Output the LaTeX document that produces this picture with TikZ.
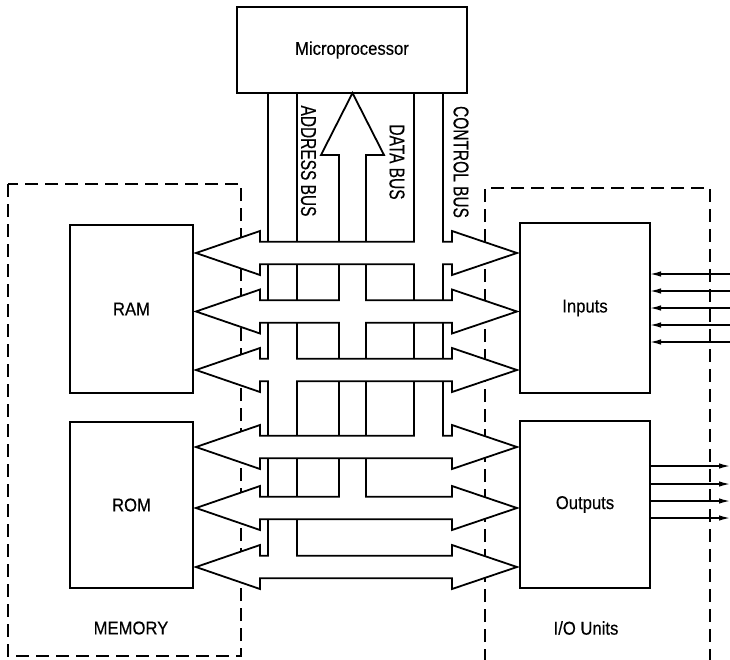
\documentclass[tikz,border=0pt]{standalone}
\usepackage{fontspec}
\setmainfont{Liberation Sans}
\newfontfamily\lblfont{Liberation Sans}[FakeStretch=0.9,FakeBold=0.35]
\newfontfamily\busfont{Liberation Sans}[FakeStretch=0.72,FakeBold=0.35]
\usetikzlibrary{arrows.meta}
\newcommand\mybusarrow[1]{%
  \filldraw[busline, fill=white] (196,#1) -- (260,#1-22) -- (260,#1-11.25) -- (452,#1-11.25)
    -- (452,#1-22) -- (517,#1) -- (452,#1+22) -- (452,#1+11.25) -- (260,#1+11.25)
    -- (260,#1+22) -- cycle;}
\newcommand\myjoin[3]{% #1 left x, #2 right x, #3 edge y
  \fill[white] (#1+0.95,#3-1.8) rectangle (#2-0.95,#3+1.8);}
\begin{document}
\begin{tikzpicture}[x=1pt,y=-1pt,
  blk/.style={draw, line width=1.8pt, inner sep=0pt, outer sep=0pt,
    font=\lblfont\fontsize{18.5}{20}\selectfont},
  lbl/.style={inner sep=0pt, font=\lblfont\fontsize{18.5}{20}\selectfont},
  buslbl/.style={inner sep=0pt, rotate=-90, font=\busfont\fontsize{21.5}{23}\selectfont},
  busline/.style={line width=1.8pt, line join=miter},
  grp/.style={line width=1.6pt, dash pattern=on 13pt off 7pt},
  sig/.style={line width=1.4pt, -{Latex[length=11pt,width=5.5pt]}}]
\useasboundingbox (0,0) rectangle (730,659);

% unit boxes
\node[blk, minimum width=230pt, minimum height=86pt] (mp) at (352,50) {Microprocessor};
\node[blk, minimum width=123pt, minimum height=168pt] (ram) at (131.5,309) {RAM};
\node[blk, minimum width=123pt, minimum height=166pt] (rom) at (131.5,505) {ROM};
\node[blk, minimum width=130pt, minimum height=170pt] (inputs) at (585,308) {Inputs};
\node[blk, minimum width=130pt, minimum height=167pt] (outputs) at (585,504.5) {Outputs};

% group outlines
\draw[grp] (8,184) rectangle (241,656);
\draw[grp] (485,662) -- (485,188) -- (710,188) -- (710,662);
\node[lbl] (memlbl) at (131,628) {MEMORY};
\node[lbl] (iolbl) at (586,628) {I/O Units};

% vertical buses
\draw[busline] (268,93) -- (268,556);
\draw[busline] (297,93) -- (297,556);
\draw[busline] (339,497) -- (339,155) -- (321,155) -- (352.5,93) -- (384,155) -- (366,155) -- (366,497);
\draw[busline] (414,93) -- (414,436);
\draw[busline] (443,93) -- (443,436);

\node[buslbl] (addr) at (308.5,161) {ADDRESS BUS};
\node[buslbl] (data) at (397,162) {DATA BUS};
\node[buslbl] (ctrl) at (461,162) {CONTROL BUS};

% horizontal double arrows
\mybusarrow{253}
\mybusarrow{311.5}
\mybusarrow{370}
\mybusarrow{447}
\mybusarrow{508}
\mybusarrow{567}

% joins of buses with arrows
\myjoin{414}{443}{241.75}
\myjoin{414}{443}{264.25}
\myjoin{339}{366}{300.25}
\myjoin{339}{366}{322.75}
\myjoin{268}{297}{358.75}
\myjoin{268}{297}{381.25}
\myjoin{414}{443}{435.75}
\myjoin{339}{366}{496.75}
\myjoin{268}{297}{555.75}

% external signals
\foreach \yy in {274,291,308,325,342}
  \draw[sig] (730,\yy) -- (inputs.east |- 0,\yy);
\foreach \yy in {466,484,501,518}
  \draw[sig] (outputs.east |- 0,\yy) -- (730,\yy);
\end{tikzpicture}
\end{document}
